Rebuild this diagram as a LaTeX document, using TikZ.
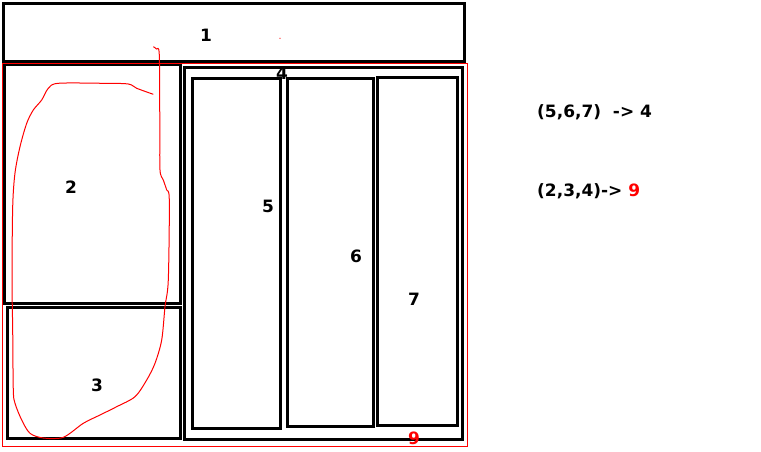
\documentclass[tikz,border=0pt]{standalone}
\usepackage{fontspec}
\setmainfont{DejaVu Sans}
\begin{document}
\begin{tikzpicture}[x=1pt,y=-1pt,
  box/.style={draw=black,line width=3pt,rectangle,inner sep=0pt,outer sep=0pt},
  lbl/.style={font=\fontsize{17}{20}\selectfont\bfseries,inner sep=0pt,text=black},
  rlbl/.style={lbl,text=red},
  note/.style={font=\fontsize{17}{20}\selectfont\bfseries,inner sep=0pt,anchor=west}]
\useasboundingbox[fill=white] (0,0) rectangle (761,452);
% boxes
\node[box,minimum width=461pt,minimum height=58pt] (b1) at (234,32.5) {};
\node[box,minimum width=176pt,minimum height=238.6pt] (b2) at (92.7,184) {};
\node[box,minimum width=172.7pt,minimum height=131.4pt] (b3) at (93.65,373) {};
\node[box,minimum width=278pt,minimum height=372pt] (b4) at (323,253.3) {};
\node[box,minimum width=87.3pt,minimum height=349.3pt] (b5) at (236.35,253.35) {};
\node[box,minimum width=86pt,minimum height=347.3pt] (b6) at (330.3,252.35) {};
\node[box,minimum width=80pt,minimum height=347.3pt] (b7) at (417.3,251.65) {};
% red outline
\draw[red,line width=1pt] (2.5,63.3) rectangle (467,446.7);
% red loop
\draw[red,line width=1pt] plot[smooth,tension=0.5] coordinates {
 (153.3,94.3) (136.7,88.3) (128.3,84) (103.3,83.3) (58.3,83.3) (48.3,88.3) (41.7,100)
 (33.3,110) (26.7,123.3) (20,146.7) (15,173) (12.7,206.7) (12,280) (12.7,330) (13.3,390)
 (15,403.3) (21.7,420) (30,433.3) (43.3,438) (63.3,437.3) (83.3,423.3) (100,415)
 (116.7,406.7) (135,396.7) (146.7,380) (155,363.3) (161.7,340) (165,306.7) (168.3,280)
 (169.3,200) (166.7,190) (163.3,180) (160,170) (159.8,126.7) (159.3,55) (156.5,49) (153.3,46.7)};
\fill[red] (280,38.3) circle (0.6pt);
% labels
\node[lbl] (l1) at (206,35) {1};
\node[lbl] (l4) at (282,73) {4};
\node[lbl] (l2) at (71,187) {2};
\node[lbl] (l3) at (97,385) {3};
\node[lbl] (l5) at (268,206) {5};
\node[lbl] (l6) at (356,256) {6};
\node[lbl] (l7) at (414,299) {7};
\node[rlbl] (l9) at (414,438) {9};
% notes
\node[note] (n1) at (537,112) {(5,6,7)\ \ ->\ 4};
\node[note] (n2) at (537,191) {(2,3,4)->\ \textcolor{red}{9}};
\end{tikzpicture}
\end{document}
